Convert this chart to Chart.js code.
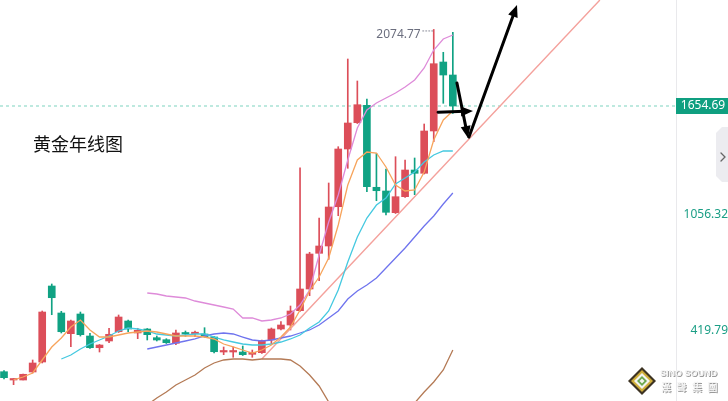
<!DOCTYPE html>
<html>
<head>
<meta charset="utf-8">
<script src="https://cdn.jsdelivr.net/npm/chart.js@4.4.0/dist/chart.umd.min.js"></script>
<style>
  html, body { margin: 0; padding: 0; background: #fff; }
  #wrap { width: 728px; height: 401px; }
</style>
</head>
<body>
<div id="wrap"><canvas id="goldChart" width="728" height="401"></canvas></div>
<script>
// годовые свечи золота
const years = [1975, 1976, 1977, 1978, 1979, 1980, 1981, 1982, 1983, 1984, 1985, 1986, 1987, 1988, 1989, 1990,
	1991, 1992, 1993, 1994, 1995, 1996, 1997, 1998, 1999, 2000, 2001, 2002, 2003, 2004, 2005, 2006,
	2007, 2008, 2009, 2010, 2011, 2012, 2013, 2014, 2015, 2016, 2017, 2018, 2019, 2020, 2021, 2022];

const opens = [196.5, 150.9, 150.9, 194.9, 249.7, 666.8, 518.7, 405.1, 513.2, 392.4, 328.2, 365.0, 416.0, 474.8, 409.0, 430.8,
	383.1, 372.1, 352.4, 410.6, 405.1, 403.4, 387.0, 304.6, 304.6, 304.6, 292.0, 300.8, 370.5, 430.8, 452.8, 531.3,
	650.4, 846.3, 886.4, 1102.0, 1418.7, 1563.0, 1658.5, 1208.5, 1188.2, 1069.1, 1156.9, 1303.4, 1285.3, 1517.5, 1896.1, 1824.8];
const highs = [202.0, 158.6, 183.0, 260.7, 529.6, 677.8, 528.0, 480.0, 524.0, 407.3, 345.8, 434.7, 507.7, 480.2, 434.7, 433.5,
	392.4, 377.6, 425.4, 419.9, 419.9, 438.0, 389.7, 332.1, 332.1, 337.6, 315.6, 370.5, 436.3, 471.0, 557.0, 1316.0,
	851.8, 1040.0, 1232.1, 1431.3, 1912.6, 1791.9, 1693.1, 1395.1, 1309.0, 1376.4, 1358.3, 1369.3, 1555.9, 2074.77, 1949.4, 2059.1];
const lows = [156.4, 125.2, 150.9, 189.4, 244.3, 509.3, 409.0, 333.7, 392.0, 323.8, 304.6, 355.7, 411.6, 416.0, 377.6, 370.5,
	365.0, 351.3, 344.7, 390.8, 388.6, 385.9, 299.0, 289.8, 275.6, 285.4, 275.6, 296.4, 348.5, 425.4, 425.4, 527.0,
	613.6, 695.9, 813.3, 1052.6, 1312.8, 1558.6, 1184.4, 1134.9, 1056.5, 1064.7, 1152.5, 1167.9, 1281.5, 1458.8, 1669.5, 1614.6];
const closes = [163.6, 154.8, 182.3, 244.3, 524.1, 602.6, 416.0, 474.8, 399.6, 328.2, 343.0, 401.8, 496.7, 430.8, 423.7, 399.6,
	370.5, 355.7, 409.0, 403.4, 410.6, 388.6, 306.2, 307.3, 307.3, 289.8, 303.0, 366.6, 430.8, 452.8, 529.6, 650.4,
	842.4, 886.4, 1100.4, 1418.7, 1561.4, 1661.8, 1211.8, 1189.8, 1071.3, 1156.9, 1303.4, 1285.3, 1517.5, 1886.8, 1824.8, 1654.69];

// скользящие и полосы Боллинджера
const ma5 = [null, 151.0, 167.4, 189.4, 260.7, 332.1, 381.5, 441.8, 480.2, 425.4, 386.9, 386.9, 397.9, 408.9, 414.4, 419.9,
	414.4, 403.4, 392.4, 392.4, 392.4, 386.9, 376.0, 348.5, 332.1, 315.6, 299.1, 315.6, 343.0, 386.9, 441.8, 535.1,
	639.4, 716.2, 820.5, 1001.6, 1221.1, 1358.3, 1402.2, 1396.7, 1319.9, 1221.1, 1188.2, 1193.7, 1292.5, 1468.1, 1577.8, 1627.2];
const ma10 = [null, null, null, null, null, null, 266.2, 288.2, 321.1, 348.5, 370.5, 392.4, 419.9, 436.3, 430.8, 419.9,
	403.4, 397.9, 392.4, 397.9, 403.4, 403.4, 386.9, 370.5, 359.5, 348.5, 343.0, 343.0, 348.5, 359.5, 376.0, 397.9,
	436.3, 469.3, 529.6, 644.9, 798.5, 935.7, 1040.0, 1111.4, 1149.8, 1226.6, 1259.5, 1292.5, 1347.3, 1385.8, 1407.7, 1407.7];
const ma20 = [null, null, null, null, null, null, null, null, null, null, null, null, null, null, null, 321.1,
	332.1, 343.0, 354.0, 365.0, 376.0, 392.4, 403.4, 408.9, 403.4, 386.9, 370.5, 365.0, 370.5, 381.5, 392.4, 408.9,
	425.4, 452.8, 491.2, 529.6, 595.5, 639.4, 672.3, 710.7, 765.6, 820.5, 875.4, 935.7, 996.1, 1051.0, 1116.8, 1177.2];
const bollUpper = [null, null, null, null, null, null, null, null, null, null, null, null, null, null, null, 628.4,
	622.9, 612.0, 606.5, 601.0, 584.5, 573.5, 562.6, 551.6, 540.6, 491.2, 491.2, 474.8, 480.2, 491.2, 513.2, 562.6,
	644.9, 837.0, 1018.1, 1166.2, 1358.3, 1533.9, 1632.7, 1671.1, 1698.6, 1726.0, 1758.9, 1797.4, 1863.2, 1962.0, 2022.4, 2044.3];
const bollLower = [null, null, null, null, null, null, null, null, null, null, null, null, null, null, null, 13.8,
	52.2, 85.1, 123.5, 151.0, 178.4, 216.8, 244.3, 260.7, 266.2, 266.2, 260.7, 266.2, 266.2, 266.2, 260.7, 227.8,
	178.4, 118.0, 30.2, null, null, null, null, null, null, null, null, 24.7, 85.1, 140.0, 205.8, 315.6];

const yTicks = [419.79, 1056.32];
const lastPrice = 1654.69;

// трендовая линия и стрелки (в единицах данных: индекс свечи, цена)
const trendLine = [{ x: 27, y: 266.2 }, { x: 62.4, y: 2236.4 }];
const arrows = [
	[[45.45, 1620], [49.11, 1627]],
	[[47.43, 1781], [48.59, 1479]],
	[[48.69, 1484], [53.72, 2209]]
];

const UP = '#dc4e59';
const DOWN = '#10a283';
const candleColors = closes.map((c, i) => c >= opens[i] ? UP : DOWN);

const wickData = years.map((y, i) => ({ x: i, y: [lows[i], highs[i]] }));
const bodyData = years.map((y, i) => ({ x: i, y: [opens[i], closes[i]] }));
const toXY = arr => arr.map((v, i) => ({ x: i, y: v }));

const lineDs = (data, color) => ({
	type: 'line',
	data: toXY(data),
	borderColor: color,
	borderWidth: 1.3,
	pointRadius: 0,
	tension: 0,
	spanGaps: false,
	order: 0
});

const overlay = {
	id: 'overlay',
	beforeDatasetsDraw(chart) {
		const { ctx, chartArea, scales: { y } } = chart;
		const py = y.getPixelForValue(lastPrice);
		ctx.save();
		ctx.strokeStyle = '#a8e2d5';
		ctx.lineWidth = 1.5;
		ctx.setLineDash([3, 3]);
		ctx.beginPath();
		ctx.moveTo(chartArea.left, py);
		ctx.lineTo(chartArea.right, py);
		ctx.stroke();
		ctx.restore();
	},
	afterDatasetsDraw(chart) {
		const { ctx, chartArea, scales: { x, y } } = chart;
		ctx.save();

		// стрелки
		ctx.strokeStyle = '#000';
		ctx.fillStyle = '#000';
		ctx.lineWidth = 3;
		ctx.lineCap = 'round';
		arrows.forEach(([a, b]) => {
			const x1 = x.getPixelForValue(a[0]), y1 = y.getPixelForValue(a[1]);
			const x2 = x.getPixelForValue(b[0]), y2 = y.getPixelForValue(b[1]);
			const ang = Math.atan2(y2 - y1, x2 - x1);
			ctx.beginPath();
			ctx.moveTo(x1, y1);
			ctx.lineTo(x2 - Math.cos(ang) * 8, y2 - Math.sin(ang) * 8);
			ctx.stroke();
			ctx.beginPath();
			ctx.moveTo(x2, y2);
			ctx.lineTo(x2 - Math.cos(ang) * 12 + Math.sin(ang) * 5, y2 - Math.sin(ang) * 12 - Math.cos(ang) * 5);
			ctx.lineTo(x2 - Math.cos(ang) * 12 - Math.sin(ang) * 5, y2 - Math.sin(ang) * 12 + Math.cos(ang) * 5);
			ctx.closePath();
			ctx.fill();
		});

		// максимум
		const hi = highs.indexOf(Math.max(...highs));
		const hx = x.getPixelForValue(hi), hy = y.getPixelForValue(highs[hi]);
		ctx.strokeStyle = '#8a8c99';
		ctx.lineWidth = 1;
		ctx.setLineDash([1, 2]);
		ctx.beginPath();
		ctx.moveTo(hx - 11, hy + 1.5);
		ctx.lineTo(hx - 1, hy + 1.5);
		ctx.stroke();
		ctx.setLineDash([]);
		ctx.fillStyle = '#6b6e7e';
		ctx.font = '12px "Noto Sans"';
		ctx.textAlign = 'right';
		ctx.textBaseline = 'middle';
		ctx.fillText(highs[hi].toFixed(2), hx - 13, hy + 5);

		// заголовок
		ctx.fillStyle = '#111';
		ctx.font = '18px "Noto Sans CJK SC"';
		ctx.textAlign = 'left';
		ctx.fillText('黄金年线图', 33, 144);

		// метка текущей цены
		const py = y.getPixelForValue(lastPrice);
		ctx.fillStyle = '#0f9f80';
		ctx.fillRect(chartArea.right, py - 8, chart.width - chartArea.right, 16);
		ctx.fillStyle = '#fff';
		ctx.font = '12px "Noto Sans"';
		ctx.textAlign = 'center';
		ctx.fillText(lastPrice.toFixed(2), (chartArea.right + chart.width) / 2 + 1, py);

		// боковая вкладка
		ctx.fillStyle = '#ececf0';
		ctx.beginPath();
		ctx.moveTo(728, 127);
		ctx.lineTo(722, 127);
		ctx.lineTo(716, 133);
		ctx.lineTo(716, 176);
		ctx.lineTo(722, 182);
		ctx.lineTo(728, 182);
		ctx.closePath();
		ctx.fill();
		ctx.strokeStyle = '#666';
		ctx.lineWidth = 1.3;
		ctx.beginPath();
		ctx.moveTo(721, 153);
		ctx.lineTo(725, 157);
		ctx.lineTo(721, 161);
		ctx.stroke();

		// логотип
		const cx = 642, cy = 381;
		const dia = (r, c) => {
			ctx.fillStyle = c;
			ctx.beginPath();
			ctx.moveTo(cx, cy - r); ctx.lineTo(cx + r, cy); ctx.lineTo(cx, cy + r); ctx.lineTo(cx - r, cy);
			ctx.closePath(); ctx.fill();
		};
		dia(14, '#3d3322');
		dia(11, '#cfae3a');
		dia(8, '#f4f4f0');
		dia(5, '#6aa84f');
		dia(2.5, '#f4f4f0');
		ctx.font = 'bold 9px "Liberation Sans"';
		ctx.textAlign = 'left';
		ctx.fillStyle = '#9a9a9a';
		ctx.fillText('SINO SOUND', 661, 375);
		ctx.fillStyle = '#f4f4f4';
		ctx.fillText('SINO SOUND', 660, 374);
		ctx.font = 'bold 10px "Noto Sans CJK TC"';
		['漢', '聲', '集', '團'].forEach((ch, k) => {
			ctx.fillStyle = '#9a9a9a';
			ctx.fillText(ch, 662 + k * 15.5, 388);
			ctx.fillStyle = '#f4f4f4';
			ctx.fillText(ch, 661 + k * 15.5, 387);
		});
		ctx.restore();
	}
};

const ctx = document.getElementById('goldChart').getContext('2d');
const goldChart = new Chart(ctx, {
	type: 'bar',
	data: {
		datasets: [
			lineDs(ma5, '#f7a45c'),
			lineDs(ma10, '#45c9e0'),
			lineDs(ma20, '#6f74ee'),
			lineDs(bollUpper, '#de8bd9'),
			lineDs(bollLower, '#b47a55'),
			{
				type: 'line',
				data: trendLine,
				borderColor: '#f4a19c',
				borderWidth: 1.4,
				pointRadius: 0,
				order: 0
			},
			{
				data: bodyData,
				backgroundColor: candleColors,
				barThickness: 7,
				minBarLength: 1.5,
				grouped: false,
				order: 1
			},
			{
				data: wickData,
				backgroundColor: candleColors,
				barThickness: 1,
				grouped: false,
				order: 2
			}
		]
	},
	options: {
		responsive: false,
		animation: false,
		layout: { padding: 0 },
		plugins: {
			legend: { display: false },
			tooltip: { enabled: false }
		},
		scales: {
			x: {
				type: 'linear',
				min: -0.42,
				max: 70.37,
				offset: false,
				display: false
			},
			y: {
				position: 'right',
				min: 35.7,
				max: 2236.4,
				grid: { display: false },
				border: { display: true, color: '#e9e9ec' },
				afterBuildTicks: scale => {
					scale.ticks = yTicks.map(v => ({ value: v }));
				},
				afterFit: scale => {
					scale.width = 52;
					scale.paddingTop = 0;
					scale.paddingBottom = 0;
				},
				ticks: {
					crossAlign: 'far',
					padding: 4,
					color: '#1a9e85',
					font: { size: 12, family: 'Noto Sans' },
					callback: v => v.toFixed(2)
				}
			}
		}
	},
	plugins: [overlay]
});
</script>
</body>
</html>
